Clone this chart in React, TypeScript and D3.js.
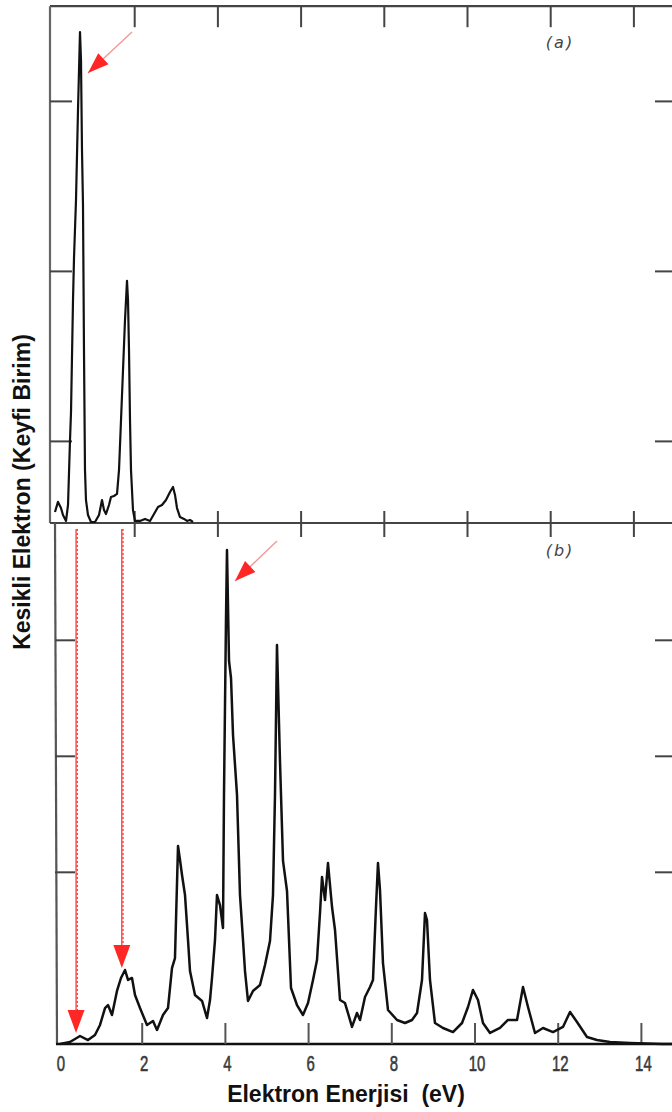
import React from "react";
import * as d3 from "d3";

// Panel (a) spectrum: energy (eV) and intensity (arbitrary units)
const energyA = [0.084, 0.156, 0.228, 0.276, 0.349, 0.397, 0.445, 0.469, 0.517, 0.541, 0.589, 0.637, 0.685, 0.709, 0.733, 0.757, 0.781, 0.805, 0.829, 0.877, 0.95, 1.046, 1.142, 1.214, 1.262, 1.31, 1.382, 1.43, 1.502, 1.575, 1.623, 1.671, 1.719, 1.767, 1.815, 1.839, 1.863, 1.887, 1.911, 1.959, 2.007, 2.127, 2.248, 2.368, 2.464, 2.56, 2.656, 2.752, 2.849, 2.921, 2.969, 3.017, 3.089, 3.185, 3.257, 3.329, 3.401];
const intensityA = [0.065, 0.124, 0.088, 0.047, 0.012, 0.106, 0.488, 0.653, 1.312, 1.559, 1.9, 2.429, 2.888, 2.724, 2.194, 1.871, 1.012, 0.312, 0.135, 0.047, 0.006, 0.006, 0.047, 0.135, 0.076, 0.053, 0.106, 0.153, 0.159, 0.171, 0.312, 0.606, 0.9, 1.194, 1.424, 1.312, 1.018, 0.606, 0.312, 0.076, 0.012, 0.012, 0.024, 0.012, 0.053, 0.094, 0.106, 0.135, 0.182, 0.212, 0.165, 0.088, 0.035, 0.024, 0.012, 0.018, 0.006];

// Panel (b) spectrum
const energyB = [0.024, 0.264, 0.505, 0.697, 0.865, 0.986, 1.106, 1.178, 1.274, 1.394, 1.49, 1.587, 1.659, 1.755, 1.827, 1.947, 2.115, 2.26, 2.356, 2.5, 2.62, 2.716, 2.788, 2.861, 2.909, 2.957, 3.029, 3.101, 3.149, 3.269, 3.438, 3.558, 3.63, 3.678, 3.75, 3.798, 3.87, 3.942, 3.966, 4.014, 4.038, 4.087, 4.135, 4.183, 4.279, 4.351, 4.423, 4.471, 4.543, 4.663, 4.832, 4.952, 5.072, 5.144, 5.192, 5.24, 5.312, 5.385, 5.481, 5.577, 5.721, 5.865, 5.986, 6.106, 6.202, 6.274, 6.322, 6.394, 6.466, 6.563, 6.635, 6.755, 6.875, 6.947, 7.043, 7.163, 7.236, 7.356, 7.476, 7.548, 7.62, 7.668, 7.716, 7.788, 7.909, 8.125, 8.317, 8.486, 8.606, 8.726, 8.798, 8.846, 8.918, 9.038, 9.231, 9.471, 9.688, 9.832, 9.952, 10.072, 10.192, 10.361, 10.601, 10.793, 11.01, 11.154, 11.274, 11.442, 11.635, 11.875, 12.115, 12.284, 12.452, 12.692, 12.933, 13.245, 13.726, 14.5, 15.0];
const intensityB = [0, 0.017, 0.069, 0.034, 0.078, 0.164, 0.31, 0.336, 0.25, 0.457, 0.569, 0.638, 0.552, 0.569, 0.422, 0.31, 0.164, 0.198, 0.121, 0.25, 0.31, 0.655, 0.741, 1.707, 1.586, 1.457, 1.284, 0.897, 0.629, 0.422, 0.371, 0.224, 0.379, 0.569, 0.897, 1.284, 1.198, 1.0, 2.147, 3.655, 4.259, 3.302, 3.155, 2.664, 2.147, 1.284, 0.897, 0.629, 0.371, 0.457, 0.509, 0.681, 0.888, 1.284, 2.147, 3.44, 2.44, 1.578, 1.319, 0.483, 0.336, 0.25, 0.353, 0.552, 0.724, 1.129, 1.44, 1.241, 1.56, 1.181, 0.983, 0.379, 0.353, 0.267, 0.147, 0.267, 0.207, 0.405, 0.491, 0.552, 1.181, 1.56, 1.328, 0.698, 0.293, 0.207, 0.181, 0.207, 0.267, 0.552, 1.129, 1.069, 0.552, 0.181, 0.138, 0.103, 0.181, 0.319, 0.466, 0.379, 0.181, 0.095, 0.138, 0.207, 0.207, 0.491, 0.319, 0.095, 0.138, 0.103, 0.147, 0.276, 0.19, 0.06, 0.034, 0.017, 0.009, 0.0, 0.0];

const xTickValues = [0, 2, 4, 6, 8, 10, 12, 14];
const xTickLabels = ["0", "2", "4", "6", "8", "10", "12", "14"];
const yTicksA = [0.48, 1.48, 2.48];
const yTicksB = [1.48, 2.48, 3.48];

// Red markers (data coordinates)
const dropArrowEnergies = [0.41, 1.51];
const dropArrowTips = [0.095, 0.655];
const peakArrowA = { tailE: 1.935, tailI: 2.888, tipE: 0.877, tipI: 2.647 };
const peakArrowB = { tailE: 5.24, tailI: 4.336, tipE: 4.231, tipI: 3.991 };

const W = 672;
const H = 1112;

export default function App() {
  const xA = d3.scaleLinear().domain([0, 15]).range([51.5, 51.5 + 15 * 41.6]);
  const yA = d3.scaleLinear().domain([0, 3.04]).range([523, 6.2]);
  const xB = d3.scaleLinear().domain([0, 15]).range([59, 59 + 15 * 41.6]);
  const yB = d3.scaleLinear().domain([0, 4.474]).range([1044, 525]);

  const lineA = d3.line<number>().x((_, i) => xA(energyA[i])).y((d) => yA(d));
  const lineB = d3.line<number>().x((_, i) => xB(energyB[i])).y((d) => yB(d));

  const frameColor = "#444";
  const red = "#ff2626";
  const topY = yA(3.04);
  const midY = yA(0);
  const botY = yB(0);

  const arrowHead = (tx: number, ty: number, fx: number, fy: number, len: number, wid: number) => {
    const dx = tx - fx, dy = ty - fy;
    const L = Math.hypot(dx, dy);
    const ux = dx / L, uy = dy / L;
    const bx = tx - ux * len, by = ty - uy * len;
    const px = -uy, py = ux;
    return `M${tx},${ty}L${bx + px * wid / 2},${by + py * wid / 2}L${bx - px * wid / 2},${by - py * wid / 2}Z`;
  };

  const pa = {
    tx: xA(peakArrowA.tipE), ty: yA(peakArrowA.tipI),
    fx: xA(peakArrowA.tailE), fy: yA(peakArrowA.tailI),
  };
  const pb = {
    tx: xB(peakArrowB.tipE), ty: yB(peakArrowB.tipI),
    fx: xB(peakArrowB.tailE), fy: yB(peakArrowB.tailI),
  };

  return (
    <svg width={W} height={H} style={{ position: "absolute", left: 0, top: 0, background: "#fff" }}>
      {/* frames */}
      <line x1={50} y1={topY} x2={W} y2={topY} stroke={frameColor} strokeWidth={2.2} />
      <line x1={50} y1={topY} x2={50} y2={midY} stroke="#666" strokeWidth={2.2} />
      <line x1={50} y1={midY} x2={W} y2={midY} stroke={frameColor} strokeWidth={2} />
      <line x1={55} y1={midY} x2={57} y2={botY} stroke="#555" strokeWidth={2.2} />
      <line x1={56} y1={botY} x2={W} y2={botY} stroke="#111" strokeWidth={2.6} />

      {/* top ticks panel a */}
      {xTickValues.filter((v) => v > 0).map((v) => (
        <line key={"ta" + v} x1={xA(v)} x2={xA(v)} y1={topY} y2={topY + 21} stroke={frameColor} strokeWidth={2} />
      ))}
      {/* ticks on shared boundary */}
      {xTickValues.filter((v) => v > 0).map((v) => (
        <line key={"ma" + v} x1={xA(v)} x2={xA(v)} y1={midY - 12} y2={midY + 14} stroke={frameColor} strokeWidth={2} />
      ))}
      {/* bottom ticks panel b */}
      {xTickValues.filter((v) => v > 0).map((v) => (
        <line key={"bb" + v} x1={xB(v)} x2={xB(v)} y1={botY - 21} y2={botY} stroke="#555" strokeWidth={2} />
      ))}
      {/* left/right ticks */}
      {yTicksA.map((t) => (
        <g key={"ya" + t}>
          <line x1={50} x2={72} y1={yA(t)} y2={yA(t)} stroke={frameColor} strokeWidth={2} />
          <line x1={655} x2={W} y1={yA(t)} y2={yA(t)} stroke={frameColor} strokeWidth={2} />
        </g>
      ))}
      {yTicksB.map((t) => (
        <g key={"yb" + t}>
          <line x1={55} x2={75} y1={yB(t)} y2={yB(t)} stroke={frameColor} strokeWidth={2} />
          <line x1={655} x2={W} y1={yB(t)} y2={yB(t)} stroke={frameColor} strokeWidth={2} />
        </g>
      ))}

      {/* x tick labels */}
      {xTickValues.map((v, i) => (
        <text
          key={"xl" + v}
          transform={`translate(${xB(v) + 2},${botY + 27}) scale(0.68,1)`}
          textAnchor="middle"
          fontFamily="Liberation Sans, Arial, sans-serif"
          fontSize={22}
          fill="#3a3a3a"
          stroke="#3a3a3a"
          strokeWidth={0.6}
        >
          {xTickLabels[i]}
        </text>
      ))}

      {/* panel labels */}
      <text x={560} y={48} textAnchor="middle" fontFamily="DejaVu Sans, sans-serif" fontStyle="italic" fontSize={16} letterSpacing={2} fill="#444">(a)</text>
      <text x={560} y={556} textAnchor="middle" fontFamily="DejaVu Sans, sans-serif" fontStyle="italic" fontSize={16} letterSpacing={2} fill="#444">(b)</text>

      {/* curves */}
      <path d={lineA(intensityA) || ""} fill="none" stroke="#111" strokeWidth={2.2} strokeLinejoin="round" />
      <path d={lineB(intensityB) || ""} fill="none" stroke="#111" strokeWidth={2.5} strokeLinejoin="round" />

      {/* red drop arrows */}
      {dropArrowEnergies.map((e, i) => {
        const x = xB(e);
        const tipY = yB(dropArrowTips[i]);
        return (
          <g key={"da" + i}>
            <line x1={x} x2={x} y1={midY + 6} y2={tipY - 20} stroke={red} strokeWidth={1.2} />
            <line x1={x + 1.2} x2={x + 1.2} y1={midY + 6} y2={tipY - 20} stroke={red} strokeWidth={1.2} strokeDasharray="2,2" />
            <path d={`M${x},${tipY}L${x - 8.5},${tipY - 23}L${x + 8.5},${tipY - 23}Z`} fill={red} />
          </g>
        );
      })}

      {/* red peak arrows */}
      <line x1={pa.fx} y1={pa.fy} x2={pa.tx} y2={pa.ty} stroke="#f49a9a" strokeWidth={1.5} />
      <path d={arrowHead(pa.tx, pa.ty, pa.fx, pa.fy, 21, 15)} fill={red} />
      <line x1={pb.fx} y1={pb.fy} x2={pb.tx} y2={pb.ty} stroke="#f49a9a" strokeWidth={1.5} />
      <path d={arrowHead(pb.tx, pb.ty, pb.fx, pb.fy, 21, 15)} fill={red} />

      {/* axis titles */}
      <text x={346} y={1102} textAnchor="middle" fontFamily="Liberation Sans, Arial, sans-serif" fontWeight="bold" fontSize={23} fill="#111">
        Elektron Enerjisi{"\u00a0\u00a0"}(eV)
      </text>
      <text
        transform="translate(30,492) rotate(-90)"
        textAnchor="middle"
        fontFamily="Liberation Sans, Arial, sans-serif"
        fontWeight="bold"
        fontSize={23}
        fill="#111"
      >
        Kesikli Elektron (Keyfi Birim)
      </text>
    </svg>
  );
}
